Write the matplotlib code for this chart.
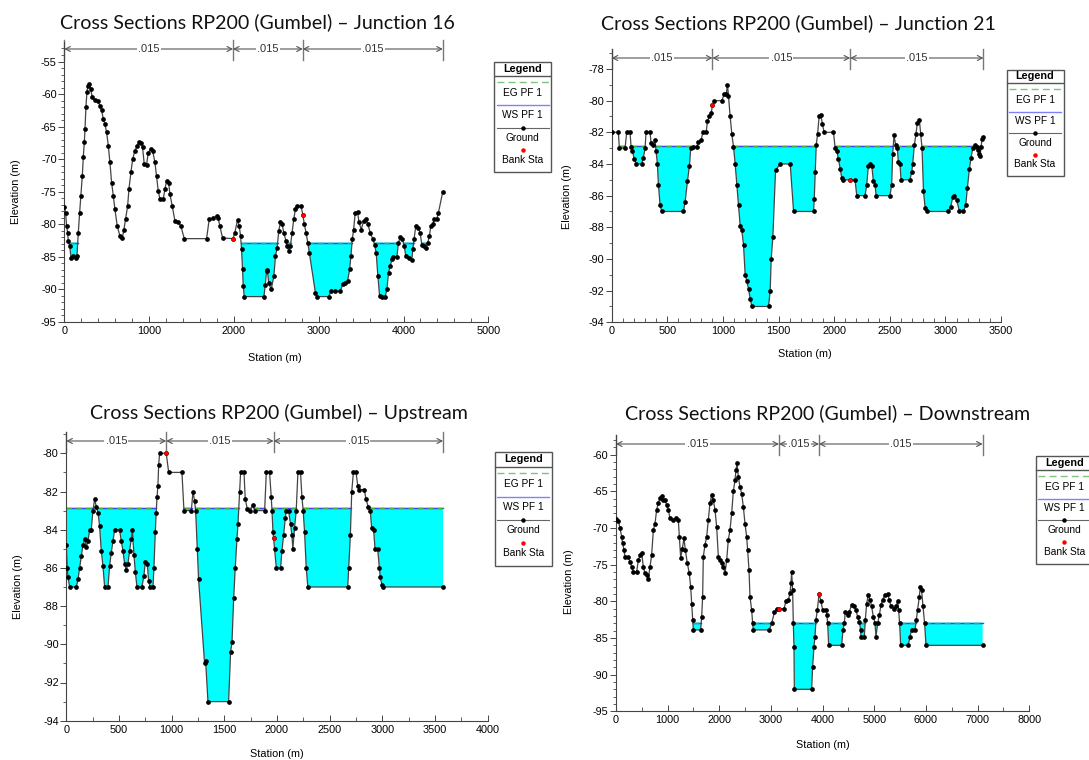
import numpy as np
import matplotlib
matplotlib.use("Agg")
import matplotlib.pyplot as plt
from matplotlib.ticker import MultipleLocator
from matplotlib.transforms import blended_transform_factory
from matplotlib.patches import Rectangle

W, H = 1089, 760
plt.rcParams['font.family'] = ['Liberation Sans', 'DejaVu Sans']
plt.rcParams['axes.unicode_minus'] = False

# ---- Junction 16 ----
j16_sta = [0, 16, 27, 40, 47, 63, 79, 106, 134, 149, 165, 181, 196, 212, 224, 236, 244, 255, 267, 279,
           295, 310, 330, 361, 393, 420, 440, 460, 479, 499, 519, 538, 558, 578, 597, 625, 656, 684, 703, 723,
           747, 762, 786, 806, 833, 861, 884, 904, 923, 943, 970, 990, 1017, 1041, 1069, 1088, 1108, 1128, 1167, 1187,
           1206, 1230, 1246, 1273, 1305, 1344, 1375, 1415, 1678, 1709, 1757, 1795, 1815, 1835, 1866, 1990, 2011, 2043, 2063, 2079,
           2090, 2102, 2110, 2122, 2354, 2370, 2385, 2395, 2410, 2440, 2471, 2490, 2510, 2529, 2549, 2569, 2588, 2616, 2627, 2647,
           2667, 2686, 2706, 2725, 2745, 2792, 2812, 2831, 2851, 2871, 2890, 2961, 2980, 3118, 3145, 3196, 3255, 3282, 3314, 3341,
           3365, 3380, 3396, 3412, 3431, 3459, 3475, 3502, 3529, 3561, 3580, 3608, 3639, 3659, 3678, 3698, 3718, 3745, 3784, 3804,
           3824, 3843, 3863, 3882, 3922, 3941, 3961, 3988, 4008, 4027, 4059, 4098, 4110, 4125, 4145, 4176, 4196, 4216, 4243, 4267,
           4286, 4306, 4322, 4345, 4361, 4392, 4412, 4463]
j16_elev = [-77.4, -78.2, -80.3, -81.3, -82.6, -83.3, -85.1, -84.9, -85.1, -84.9, -81.3, -78.2, -75.6, -72.6, -69.7, -67.4, -65.4, -62.0, -59.7, -58.7,
            -58.4, -59.2, -60.5, -60.9, -61.0, -61.8, -62.5, -63.8, -64.6, -65.9, -67.9, -70.5, -73.6, -75.6, -77.7, -80.3, -81.8, -82.1, -80.8, -79.2,
            -77.2, -74.6, -72.0, -70.0, -68.7, -67.9, -67.4, -67.5, -68.2, -70.8, -70.9, -69.0, -68.5, -68.7, -70.5, -72.6, -74.9, -76.1, -76.1, -74.6,
            -73.3, -73.6, -75.4, -77.2, -79.5, -79.7, -80.3, -82.2, -82.2, -79.2, -79.1, -78.7, -79.1, -80.3, -82.1, -82.2, -81.3, -79.3, -80.3, -81.8,
            -83.8, -86.9, -89.5, -91.1, -91.1, -89.3, -87.2, -87.0, -89.0, -90.0, -88.0, -84.9, -83.6, -81.0, -79.7, -80.0, -81.3, -82.6, -83.3, -84.1,
            -83.3, -81.3, -79.2, -77.7, -77.2, -77.2, -78.5, -80.0, -81.3, -82.8, -84.4, -90.5, -91.1, -91.1, -90.3, -90.3, -90.3, -89.2, -89.0, -88.7,
            -86.9, -84.9, -82.3, -80.8, -78.2, -78.1, -79.7, -80.8, -79.5, -79.2, -80.0, -81.3, -82.3, -83.1, -84.4, -88.0, -91.0, -91.1, -91.1, -90.0,
            -87.4, -86.4, -85.4, -85.0, -85.0, -82.8, -82.0, -82.3, -83.3, -84.9, -85.1, -85.5, -83.8, -82.3, -80.2, -80.5, -81.3, -83.1, -83.3, -83.6,
            -82.8, -81.8, -80.2, -80.0, -79.2, -79.2, -78.2, -75.0]
j16_bank = [1990, 2812]
j16_ws = -82.8

# ---- Junction 21 ----
j21_sta = [0, 60, 69, 120, 135, 165, 174, 186, 204, 219, 270, 285, 300, 309, 345, 354, 375, 390, 399, 411,
           420, 435, 450, 645, 660, 681, 699, 711, 735, 765, 780, 804, 819, 849, 861, 879, 894, 906, 924, 990,
           1011, 1029, 1041, 1050, 1065, 1080, 1095, 1110, 1125, 1140, 1155, 1170, 1185, 1200, 1215, 1230, 1245, 1260, 1410, 1425,
           1434, 1449, 1473, 1515, 1605, 1635, 1815, 1821, 1830, 1839, 1851, 1865, 1880, 1895, 1910, 1994, 2009, 2024, 2039, 2054,
           2069, 2078, 2144, 2188, 2203, 2278, 2293, 2308, 2323, 2338, 2353, 2368, 2377, 2502, 2517, 2526, 2538, 2553, 2568, 2577,
           2592, 2601, 2682, 2697, 2706, 2721, 2736, 2748, 2766, 2778, 2790, 2803, 2818, 2833, 3027, 3048, 3066, 3081, 3102, 3126,
           3162, 3183, 3198, 3216, 3231, 3246, 3267, 3282, 3297, 3306, 3312, 3321, 3330, 3342]
j21_elev = [-82.0, -82.0, -83.0, -83.0, -82.0, -82.0, -82.9, -83.2, -83.7, -84.0, -84.0, -83.6, -83.0, -82.0, -82.0, -82.7, -82.8, -82.5, -83.2, -84.0,
            -85.3, -86.6, -87.0, -87.0, -86.4, -85.1, -84.1, -83.0, -82.9, -82.9, -82.6, -82.5, -82.0, -82.0, -81.3, -81.0, -80.8, -80.3, -80.0, -80.0,
            -79.6, -79.6, -79.0, -79.7, -81.0, -82.1, -82.9, -84.0, -85.3, -86.6, -87.9, -88.2, -89.1, -91.0, -91.4, -91.9, -92.5, -93.0, -93.0, -92.0,
            -90.0, -88.6, -84.4, -84.0, -84.0, -87.0, -87.0, -86.2, -84.5, -82.8, -82.1, -81.0, -80.9, -81.5, -82.0, -82.0, -83.0, -83.2, -83.7, -84.3,
            -84.9, -85.0, -85.0, -85.0, -86.0, -86.0, -85.3, -84.1, -84.0, -84.1, -85.1, -85.3, -86.0, -86.0, -85.3, -83.4, -82.2, -82.8, -83.0, -83.9,
            -84.0, -85.0, -85.0, -84.5, -84.0, -82.8, -82.1, -81.4, -81.2, -82.1, -83.0, -85.7, -86.8, -87.0, -87.0, -86.7, -86.1, -86.0, -86.3, -87.0,
            -87.0, -86.6, -85.5, -84.3, -83.6, -83.0, -82.8, -82.9, -83.1, -83.4, -83.5, -82.9, -82.4, -82.3]
j21_bank = [906, 2144]
j21_ws = -82.85

# ---- Upstream ----
up_sta = [0, 9, 16, 32, 95, 111, 127, 142, 158, 174, 190, 206, 222, 237, 253, 269, 285, 301, 316, 332,
          348, 364, 396, 411, 427, 443, 459, 506, 522, 538, 554, 570, 585, 601, 617, 627, 642, 655, 671, 718,
          737, 750, 769, 782, 797, 823, 832, 845, 854, 861, 870, 877, 886, 949, 972, 1098, 1117, 1187, 1203, 1218,
          1228, 1244, 1256, 1313, 1323, 1345, 1541, 1560, 1573, 1589, 1604, 1620, 1630, 1646, 1655, 1687, 1699, 1718, 1741, 1772,
          1788, 1883, 1899, 1930, 1946, 1953, 1962, 1968, 1978, 1994, 2035, 2047, 2063, 2079, 2088, 2110, 2129, 2142, 2151, 2167,
          2183, 2199, 2224, 2237, 2249, 2262, 2278, 2293, 2672, 2681, 2697, 2710, 2726, 2751, 2767, 2782, 2830, 2845, 2867, 2886,
          2899, 2918, 2931, 2956, 2972, 2981, 2997, 3009, 3577]
up_elev = [-84.8, -86.0, -86.5, -87.0, -87.0, -86.6, -86.0, -85.4, -84.8, -84.5, -84.9, -84.6, -84.0, -84.0, -83.0, -82.4, -82.8, -83.1, -83.8, -85.1,
           -85.9, -87.0, -87.0, -85.9, -85.2, -84.6, -84.0, -84.0, -84.6, -85.1, -85.8, -86.1, -85.8, -85.1, -84.5, -84.0, -85.3, -86.2, -87.0, -87.0,
           -86.4, -85.7, -85.8, -86.7, -87.0, -87.0, -86.0, -84.1, -83.1, -82.3, -81.7, -80.6, -80.0, -80.0, -81.0, -81.0, -83.0, -83.0, -82.0, -82.5,
           -83.0, -85.0, -86.6, -91.0, -90.9, -93.0, -93.0, -90.4, -89.9, -87.6, -86.0, -84.5, -83.7, -82.0, -81.0, -81.0, -82.4, -82.9, -83.0, -82.7,
           -83.0, -83.0, -81.0, -81.0, -82.3, -83.0, -84.1, -84.45, -85.0, -86.0, -86.0, -85.1, -84.3, -83.4, -83.0, -83.0, -83.7, -84.3, -85.0, -83.9,
           -83.0, -81.0, -81.0, -82.3, -83.0, -84.1, -86.0, -87.0, -87.0, -86.0, -84.3, -82.0, -81.0, -81.0, -81.7, -81.9, -81.9, -82.4, -82.8, -83.0,
           -83.9, -84.0, -85.0, -85.0, -86.0, -86.5, -86.9, -87.0, -87.0]
up_bank = [949, 1968]
up_ws = -82.85

# ---- Downstream ----
dn_sta = [0, 45, 77, 110, 129, 155, 174, 239, 271, 303, 335, 400, 432, 465, 497, 529, 561, 594, 626, 658,
          690, 723, 755, 787, 819, 852, 884, 916, 948, 981, 1013, 1045, 1110, 1161, 1206, 1226, 1252, 1284, 1316, 1342,
          1381, 1419, 1445, 1465, 1484, 1497, 1639, 1658, 1677, 1690, 1723, 1755, 1787, 1819, 1852, 1884, 1916, 1948, 1981, 2013,
          2045, 2077, 2110, 2142, 2174, 2206, 2239, 2271, 2303, 2323, 2342, 2368, 2400, 2432, 2465, 2497, 2529, 2548, 2574, 2594,
          2626, 2645, 2658, 2968, 3013, 3065, 3110, 3155, 3252, 3290, 3335, 3368, 3387, 3400, 3419, 3432, 3445, 3452, 3787, 3806,
          3832, 3852, 3871, 3897, 3930, 3968, 4000, 4065, 4084, 4097, 4116, 4368, 4394, 4419, 4439, 4484, 4516, 4561, 4613, 4645,
          4677, 4710, 4735, 4742, 4806, 4826, 4852, 4884, 4916, 4948, 4981, 5013, 5032, 5065, 5097, 5129, 5161, 5206, 5258, 5290,
          5323, 5387, 5419, 5452, 5471, 5490, 5510, 5658, 5690, 5723, 5787, 5813, 5839, 5871, 5890, 5916, 5942, 5974, 6000, 7097]
dn_elev = [-68.8, -69.0, -70.0, -71.2, -72.1, -73.0, -73.9, -74.0, -74.6, -75.3, -76.0, -76.0, -74.4, -73.7, -73.4, -75.3, -76.2, -76.4, -76.9, -75.3,
           -73.7, -70.3, -69.4, -67.5, -66.6, -65.9, -65.7, -66.2, -66.2, -66.9, -67.5, -68.7, -68.9, -68.7, -68.9, -71.2, -74.1, -72.8, -71.4, -73.0,
           -74.8, -76.2, -78.0, -80.3, -82.5, -83.9, -83.9, -82.1, -79.4, -73.9, -72.3, -71.2, -68.9, -66.6, -65.5, -66.2, -67.5, -69.8, -73.9, -74.4,
           -74.8, -75.3, -76.2, -74.4, -71.6, -70.3, -68.0, -65.0, -63.5, -62.1, -61.2, -63.0, -64.4, -65.3, -67.1, -69.4, -71.2, -73.0, -75.7, -79.4,
           -81.2, -83.0, -83.9, -83.9, -83.0, -81.5, -81.0, -81.0, -81.0, -80.0, -79.8, -78.9, -77.5, -76.0, -78.5, -83.0, -86.2, -92.0, -92.0, -88.9,
           -86.2, -84.8, -82.5, -81.2, -79.0, -80.0, -81.2, -81.2, -81.9, -83.0, -86.0, -86.0, -83.9, -83.0, -81.4, -81.9, -81.4, -80.5, -80.7, -81.2,
           -82.1, -82.8, -83.9, -84.9, -84.9, -82.5, -80.3, -79.1, -79.8, -80.7, -82.1, -83.0, -84.8, -83.0, -81.9, -80.5, -79.8, -79.1, -79.0, -79.8,
           -80.7, -81.0, -80.7, -80.0, -81.2, -83.0, -86.0, -86.0, -84.8, -83.9, -83.9, -82.5, -81.2, -79.4, -78.0, -78.5, -80.7, -83.0, -86.0, -86.0]
dn_bank = [3155, 3930]
dn_ws = -82.9

mann_n = ".015"

# layout of each panel, in pixels of the 1089x760 picture
panels = [
    dict(title="Cross Sections RP200 (Gumbel) \u2013 Junction 16", sta=j16_sta, elev=j16_elev, bank=j16_bank, ws=j16_ws,
         x0=64.3, x1=488.3, xmax=5000, xstep=1000, xminor=200,
         ylo=-95, ylo_px=322, yhi=-55, yhi_px=61.5, ystep=5, top_px=42, arrow_px=49,
         leg=(493.5, 61, 58, 111), tpos=(257, 22), ylab=(16, 192), xlab=(275, 358)),
    dict(title="Cross Sections RP200 (Gumbel) \u2013 Junction 21", sta=j21_sta, elev=j21_elev, bank=j21_bank, ws=j21_ws,
         x0=611.7, x1=1001, xmax=3500, xstep=500, xminor=100,
         ylo=-94, ylo_px=322.3, yhi=-78, yhi_px=69, ystep=2, top_px=48.5, arrow_px=58,
         leg=(1006, 69, 58, 107), tpos=(798, 23), ylab=(566.5, 197), xlab=(805, 354)),
    dict(title="Cross Sections RP200 (Gumbel) \u2013 Upstream", sta=up_sta, elev=up_elev, bank=up_bank, ws=up_ws,
         x0=66.3, x1=487.6, xmax=4000, xstep=500, xminor=250,
         ylo=-94, ylo_px=720.7, yhi=-80, yhi_px=453.3, ystep=2, top_px=432, arrow_px=441,
         leg=(494.3, 451, 58, 115), tpos=(279, 413), ylab=(18, 587), xlab=(277, 754)),
    dict(title="Cross Sections RP200 (Gumbel) \u2013 Downstream", sta=dn_sta, elev=dn_elev, bank=dn_bank, ws=dn_ws,
         x0=616, x1=1029.3, xmax=8000, xstep=1000, xminor=500,
         ylo=-95, ylo_px=711.3, yhi=-60, yhi_px=454.7, ystep=5, top_px=435, arrow_px=444,
         leg=(1035.3, 455, 58, 109), tpos=(827.5, 413), ylab=(568.6, 582), xlab=(822.6, 745)),
]

fig = plt.figure(figsize=(W / 100, H / 100), dpi=100)
fig.patch.set_facecolor('white')


def fx(px):
    return px / W


def fy(py):
    return 1 - py / H


def wet_spans(x, y, ws):
    spans, start = [], None
    for i in range(len(x)):
        wet = y[i] < ws
        if wet and start is None:
            start = x[0] if i == 0 else x[i-1] + (ws - y[i-1]) * (x[i] - x[i-1]) / (y[i] - y[i-1])
        elif not wet and start is not None:
            end = x[i-1] + (ws - y[i-1]) * (x[i] - x[i-1]) / (y[i] - y[i-1])
            spans.append((start, end))
            start = None
    if start is not None:
        spans.append((start, x[-1]))
    return spans


def draw_legend(left, top, w, h):
    lax = fig.add_axes([fx(left), fy(top + h), w / W, h / H])
    lax.set_xlim(0, w)
    lax.set_ylim(h, 0)
    lax.axis('off')
    lax.add_patch(Rectangle((0.5, 0.5), w - 1, h - 1, fill=False, ec='#555555', lw=1.0, clip_on=False))
    fs = 7.3
    lax.text(w / 2, 0.07 * h, "Legend", ha='center', va='center', fontsize=7.8, fontweight='bold')
    lax.plot([0.5, w - 0.5], [0.135 * h] * 2, color='#555555', lw=1.0)
    lax.plot([3, w - 3], [0.19 * h] * 2, color='#7cc47c', lw=1.0, ls=(0, (5, 3)))
    lax.text(w / 2, 0.29 * h, "EG PF 1", ha='center', va='center', fontsize=fs)
    lax.plot([3, w - 3], [0.40 * h] * 2, color='#8080ff', lw=1.0)
    lax.text(w / 2, 0.49 * h, "WS PF 1", ha='center', va='center', fontsize=fs)
    lax.plot([3, w - 3], [0.60 * h] * 2, color='#666666', lw=0.8)
    lax.plot([w / 2], [0.60 * h], 'o', color='black', ms=2.2)
    lax.text(w / 2, 0.69 * h, "Ground", ha='center', va='center', fontsize=fs)
    lax.plot([w / 2], [0.80 * h], 'o', color='red', ms=2.2)
    lax.text(w / 2, 0.89 * h, "Bank Sta", ha='center', va='center', fontsize=fs)


# title size fitted so that the text width matches the picture
tt = fig.text(0, 0, panels[0]['title'], fontsize=15, family='Lato')
rend = fig.canvas.get_renderer()
tw = tt.get_window_extent(rend).width
title_fs = 15 * 396 / tw
tt.remove()

for p in panels:
    sta = np.array(p['sta'], float)
    elev = np.array(p['elev'], float)
    ws = p['ws']
    ppm = (p['ylo_px'] - p['yhi_px']) / (p['yhi'] - p['ylo'])
    ytop = p['ylo'] + (p['ylo_px'] - p['top_px']) / ppm
    ah = p['ylo_px'] - p['top_px']
    ax = fig.add_axes([fx(p['x0']), fy(p['ylo_px']), (p['x1'] - p['x0']) / W, ah / H])
    ax.set_xlim(0, p['xmax'])
    ax.set_ylim(p['ylo'], ytop)
    ax.patch.set_alpha(0)
    for s in ['top', 'right']:
        ax.spines[s].set_visible(False)
    for s in ['left', 'bottom']:
        ax.spines[s].set_color('#444444')
        ax.spines[s].set_linewidth(0.8)
    ax.xaxis.set_major_locator(MultipleLocator(p['xstep']))
    ax.xaxis.set_minor_locator(MultipleLocator(p['xminor']))
    ax.yaxis.set_major_locator(MultipleLocator(p['ystep']))
    ax.yaxis.set_minor_locator(MultipleLocator(1))
    ax.tick_params(axis='y', which='major', direction='out', length=4, width=0.7, color='#444444',
                   labelsize=7.8, pad=1.5)
    ax.tick_params(axis='y', which='minor', direction='out', length=2.5, width=0.6, color='#444444')
    ax.tick_params(axis='x', which='major', direction='in', length=4, width=0.7, color='#444444',
                   labelsize=7.8, pad=3)
    ax.tick_params(axis='x', which='minor', direction='in', length=3, width=0.6, color='#444444')
    ax.xaxis.set_major_formatter(matplotlib.ticker.FuncFormatter(lambda v, pos: f"{v:.0f}"))
    ax.yaxis.set_major_formatter(matplotlib.ticker.FuncFormatter(lambda v, pos: f"{v:.0f}"))

    # water
    ax.fill_between(sta, elev, ws, where=elev < ws, interpolate=True, color='#00ffff', lw=0, zorder=1)
    for s0, s1 in wet_spans(sta, elev, ws):
        ax.plot([s0, s1], [ws, ws], color='#4040ff', lw=1.0, zorder=2)
        ax.plot([s0, s1], [ws, ws], color='#40b040', lw=1.0, ls=(0, (4, 3)), zorder=2)

    # ground and bank stations
    ax.plot(sta, elev, '-', color='#444444', lw=0.9, zorder=3)
    ax.plot(sta, elev, 'o', color='black', ms=3.4, mew=0, zorder=4)
    ax.plot(p['bank'], np.interp(p['bank'], sta, elev), 'o', color='red', ms=3.2, mew=0, zorder=5)

    # Manning's n segments
    tr = blended_transform_factory(ax.transData, ax.transAxes)
    ya = 1 - (p['arrow_px'] - p['top_px']) / ah
    yv0 = 1 - (p['arrow_px'] - 9 - p['top_px']) / ah
    yv1 = 1 - (p['arrow_px'] + 11 - p['top_px']) / ah
    bounds = [sta[0]] + list(p['bank']) + [sta[-1]]
    for b in bounds:
        ax.plot([b, b], [yv0, yv1], color='#777777', lw=1.0, transform=tr, clip_on=False)
    for a, b in zip(bounds[:-1], bounds[1:]):
        ax.annotate('', xy=(b, ya), xytext=(a, ya), xycoords=tr, textcoords=tr,
                    arrowprops=dict(arrowstyle='<->,head_length=0.35,head_width=0.18',
                                    color='#555555', lw=0.8, shrinkA=0, shrinkB=0), annotation_clip=False)
        ax.text((a + b) / 2, ya, mann_n, transform=tr, ha='center', va='center', fontsize=8,
                color='#333333', bbox=dict(fc='white', ec='none', pad=1.0), clip_on=False)

    # texts
    fig.text(fx(p['tpos'][0]), fy(p['tpos'][1]), p['title'], ha='center', va='center',
             fontsize=title_fs, family='Lato', color='#111111')
    fig.text(fx(p['ylab'][0]), fy(p['ylab'][1]), "Elevation (m)", rotation=90, ha='center', va='center',
             fontsize=7.8)
    fig.text(fx(p['xlab'][0]), fy(p['xlab'][1]), "Station (m)", ha='center', va='center', fontsize=7.8)

    draw_legend(*p['leg'])

fig.savefig("out.png", dpi=100, facecolor='white')
